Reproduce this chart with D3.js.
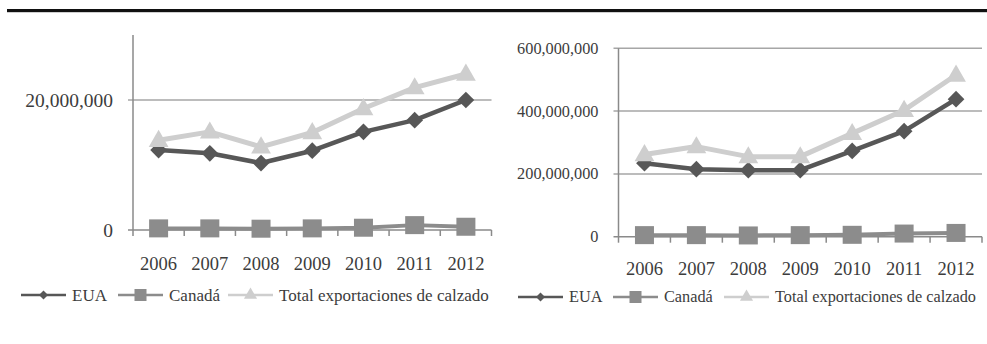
<!DOCTYPE html>
<html><head><meta charset="utf-8">
<script src="https://cdn.jsdelivr.net/npm/d3@7"></script>
<style>
html,body{margin:0;padding:0;background:#fff;}
svg{display:block;}
</style></head>
<body>
<svg id="c" width="987" height="344"></svg>
<script>
const years = ["2006","2007","2008","2009","2010","2011","2012"];
// Left chart (values)
const leftEUA    = [12300000, 11800000, 10300000, 12200000, 15100000, 16900000, 20000000];
const leftCanada = [250000, 250000, 200000, 250000, 350000, 750000, 500000];
const leftTotal  = [13800000, 15100000, 12800000, 15000000, 18700000, 21900000, 24000000];
const leftTicks  = [0, 20000000];
// Right chart (values)
const rightEUA    = [234000000, 215000000, 212000000, 212000000, 273000000, 336000000, 438000000];
const rightCanada = [5000000, 5000000, 4000000, 5000000, 6000000, 10000000, 12000000];
const rightTotal  = [262000000, 287000000, 255000000, 255000000, 329000000, 403000000, 515000000];
const rightTicks  = [0, 200000000, 400000000, 600000000];
const seriesNames = ["EUA", "Canadá", "Total exportaciones de calzado"];

const FONT = "'Liberation Serif','Times New Roman',serif";
const TXT = "#3c3c3c";
const colEUA = "#575757", colCan = "#8c8c8c", colTot = "#cecece";
const svg = d3.select("#c");

svg.append("rect").attr("x",7).attr("y",9).attr("width",980).attr("height",3.2).attr("fill","#111");

const fmt = d3.format(",");

function marker(g, type, x, y, color){
  if(type==="diamond"){
    g.append("path").attr("d", d3.symbol().type(d3.symbolSquare).size(140)()).attr("transform",`translate(${x},${y}) rotate(45)`).attr("fill",color);
  } else if(type==="square"){
    g.append("rect").attr("x",x-9.5).attr("y",y-9).attr("width",19).attr("height",18).attr("fill",color);
  } else {
    g.append("path").attr("d", d3.symbol().type(d3.symbolTriangle).size(170)()).attr("transform",`translate(${x},${y+1})`).attr("fill",color);
  }
}

function txt(g){ return g.append("text").attr("font-family",FONT).attr("fill",TXT); }

function chart(cfg){
  const g = svg.append("g");
  const x = d3.scaleBand().domain(years).range([cfg.x0, cfg.x1]);
  const y = d3.scaleLinear().domain([0, cfg.ymax]).range([cfg.yb, cfg.yt]);
  cfg.ticks.forEach(t=>{
    g.append("line").attr("x1",cfg.x0-5).attr("x2",cfg.x1).attr("y1",y(t)).attr("y2",y(t))
      .attr("stroke",t===0?"#8a8a8a":"#a6a6a6").attr("stroke-width",1.5);
    txt(g).attr("x",cfg.x0-cfg.labGap).attr("y",y(t)).attr("dy","0.34em").attr("text-anchor","end")
      .attr("font-size",cfg.yfs).text(fmt(t));
  });
  g.append("line").attr("x1",cfg.x0).attr("x2",cfg.x0).attr("y1",cfg.yt).attr("y2",cfg.yb+6)
    .attr("stroke","#8a8a8a").attr("stroke-width",1.5);
  years.forEach((d,i)=>{
    const xx = x(d)+x.bandwidth();
    g.append("line").attr("x1",xx).attr("x2",xx).attr("y1",cfg.yb).attr("y2",cfg.yb+6).attr("stroke","#8a8a8a").attr("stroke-width",1.5);
  });
  years.forEach(d=>{
    txt(g).attr("x",x(d)+x.bandwidth()/2).attr("y",cfg.xlabY).attr("text-anchor","middle")
      .attr("font-size",18.5).text(d);
  });
  const cx = d=>x(d)+x.bandwidth()/2;
  const order = [
    {v:cfg.can, c:colCan, m:"square", w:4},
    {v:cfg.eua, c:colEUA, m:"diamond", w:4.5},
    {v:cfg.tot, c:colTot, m:"triangle", w:5}
  ];
  order.forEach(s=>{
    const line = d3.line().x((v,i)=>cx(years[i])).y(v=>y(v));
    g.append("path").attr("d",line(s.v)).attr("fill","none").attr("stroke",s.c).attr("stroke-width",s.w).attr("stroke-linejoin","round");
    s.v.forEach((v,i)=>marker(g,s.m,cx(years[i]),y(v),s.c));
  });
  const L = cfg.legend, ly = cfg.legY;
  const items = [
    {name:seriesNames[0], c:colEUA, m:"diamond", x:L[0]},
    {name:seriesNames[1], c:colCan, m:"square", x:L[1]},
    {name:seriesNames[2], c:colTot, m:"triangle", x:L[2]}
  ];
  items.forEach(it=>{
    g.append("line").attr("x1",it.x).attr("x2",it.x+45).attr("y1",ly).attr("y2",ly).attr("stroke",it.c).attr("stroke-width",2.5);
    if(it.m==="diamond") g.append("path").attr("d", d3.symbol().type(d3.symbolSquare).size(40)()).attr("transform",`translate(${it.x+22.5},${ly}) rotate(45)`).attr("fill",it.c);
    else if(it.m==="square") g.append("rect").attr("x",it.x+16.5).attr("y",ly-6).attr("width",12).attr("height",12).attr("fill",it.c);
    else g.append("path").attr("d", d3.symbol().type(d3.symbolTriangle).size(75)()).attr("transform",`translate(${it.x+22.5},${ly})`).attr("fill",it.c);
    txt(g).attr("x",it.x+51).attr("y",ly).attr("dy","0.33em").attr("font-size",cfg.legFs).text(it.name);
  });
}

chart({x0:133, x1:491.5, yb:230, yt:35, ymax:30000000, ticks:leftTicks, yfs:19.5, labGap:20,
  eua:leftEUA, can:leftCanada, tot:leftTotal, xlabY:270, legend:[21,118,228], legY:295, legFs:17});
chart({x0:618.5, x1:982, yb:236.7, yt:48.3, ymax:600000000, ticks:rightTicks, yfs:16.3, labGap:20,
  eua:rightEUA, can:rightCanada, tot:rightTotal, xlabY:275, legend:[518,613,724], legY:297, legFs:16.3});
</script>
</body></html>
